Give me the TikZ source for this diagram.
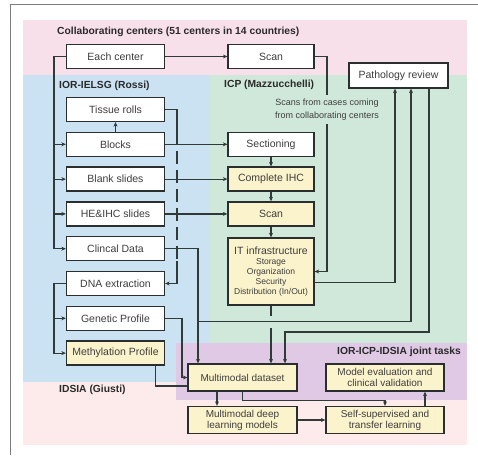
\documentclass[tikz,border=0pt]{standalone}
\usepackage{fontspec}
\setmainfont{Liberation Sans}
\usetikzlibrary{arrows.meta,calc}
\definecolor{cpink}{HTML}{F8E0EB}
\definecolor{cblue}{HTML}{CAE2F2}
\definecolor{cgreen}{HTML}{D0E8D9}
\definecolor{cpurple}{HTML}{DFC9E5}
\definecolor{cpeach}{HTML}{FCEBEA}
\definecolor{cyellow}{HTML}{FBF3CB}
\definecolor{cborder}{HTML}{2B2E2E}
\definecolor{cline}{HTML}{2F3A39}
\definecolor{ctext}{HTML}{3E3E3E}
\definecolor{clab}{HTML}{2A2A2A}
\definecolor{cframe}{HTML}{7C7C7C}
\begin{document}
\begin{tikzpicture}[x=1pt,y=-1pt,
  box/.style={draw=cborder, line width=1.3pt, fill=white, text=ctext,
    font=\fontsize{10.5}{12}\selectfont, inner sep=1pt, align=center},
  ybox/.style={box, fill=cyellow},
  lcol/.style={minimum width=98pt, minimum height=24pt},
  ccol/.style={minimum width=86pt, minimum height=24pt},
  wide/.style={minimum width=109pt, minimum height=27pt, font=\fontsize{10}{11}\selectfont},
  wider/.style={minimum width=118pt, minimum height=27pt, font=\fontsize{10}{11}\selectfont},
  cl/.style={draw=cline, line width=1.2pt},
  arr/.style={cl, -{Stealth[length=4.5pt,width=4pt]}},
  lab/.style={font=\fontsize{10.3}{12}\bfseries\selectfont, text=clab, inner sep=0pt},
  note/.style={font=\fontsize{9}{12.5}\selectfont, text=ctext, align=center, inner xsep=1pt, inner ysep=4pt}
]
\useasboundingbox (0,0) rectangle (478,455);
% backgrounds
\fill[cpeach] (23,75) rectangle (467,445);
\fill[cpink] (23,20) rectangle (467,75);
\fill[cblue] (23,75) rectangle (210,382);
\fill[cgreen] (210,75) rectangle (467,343);
\fill[cpurple] (176,343) rectangle (467,400);
% frame
\draw[cframe, line width=1pt] (478,4) -- (10,4) -- (10,455);

% labels
\node[lab, anchor=west] (lcc) at (57,32) {Collaborating centers (51 centers in 14 countries)};
\node[lab, anchor=west] (lior) at (59,86) {IOR-IELSG (Rossi)};
\node[lab, anchor=west] (licp) at (224,85) {ICP (Mazzucchelli)};
\node[lab, anchor=west] (lids) at (59,390) {IDSIA (Giusti)};
\node[lab, anchor=east] (ljoint) at (461,352) {IOR-ICP-IDSIA joint tasks};

% left column
\node[box, lcol] (ec) at (115.5,56.5) {Each center};
\node[box, lcol] (tr) at (115.5,109.5) {Tissue rolls};
\node[box, lcol] (bl) at (115.5,144.3) {Blocks};
\node[box, lcol] (bs) at (115.5,179.1) {Blank slides};
\node[box, lcol] (he) at (115.5,213.9) {HE\&IHC slides};
\node[box, lcol] (cd) at (115.5,248.7) {Clincal Data};
\node[box, lcol] (dna) at (115.5,283.5) {DNA extraction};
\node[box, lcol] (gp) at (115.5,318.3) {Genetic Profile};
\node[ybox, lcol] (mp) at (115.5,353.1) {Methylation Profile};

% center column
\node[box, ccol] (sc1) at (271,56.5) {Scan};
\node[box, ccol] (sec) at (271,144.3) {Sectioning};
\node[ybox, ccol] (cihc) at (271,179.1) {Complete IHC};
\node[ybox, ccol] (sc2) at (271,213.9) {Scan};
\node[ybox, minimum width=86pt, minimum height=67pt, font=\fontsize{8.5}{10}\selectfont] (it) at (271,271.5)
  {{\fontsize{10.5}{12}\selectfont IT infrastructure}\\Storage\\Organization\\Security\\Distribution (In/Out)};

% right
\node[box, minimum width=99pt, minimum height=25pt] (pr) at (398.5,75.5) {Pathology review};
\node[ybox, wide] (md) at (242.5,377.5) {Multimodal dataset};
\node[ybox, wider] (me) at (385,377.5) {Model evaluation and\\clinical validation};
\node[ybox, wide] (mdl) at (242.5,420) {Multimodal deep\\learning models};
\node[ybox, wider] (ss) at (385,420) {Self-supervised and\\transfer learning};

\node[note] (scn) at (327,109.5) {Scans from cases coming\\from collaborating centers};

% helper coordinates
\coordinate (b1) at (54,0);
\coordinate (dx) at (177,0);
\coordinate (cdx) at (198,0);
\coordinate (gx) at (182,0);
\coordinate (p1) at (395,0);
\coordinate (p2) at (411,0);
\coordinate (p3) at (429,0);
\coordinate (j1) at (198,321.5);
\coordinate (j3) at (285,332);
\coordinate (ga) at (271,316);
\coordinate (gb) at (271,328);

% connectors
\draw[arr] (ec.east) -- (sc1.west);
\draw[arr] (ec.west) -- (b1 |- ec.west) |- (cd.west);
\draw[arr] (b1 |- bl.west) -- (bl.west);
\draw[arr] (b1 |- bs.west) -- (bs.west);
\draw[arr] (b1 |- he.west) -- (he.west);
\draw[arr] (bl.north) -- (tr.south);

\draw[cl] (tr.east) -| (dx |- bl.north);
\draw[cl, dash pattern=on 13pt off 6pt] (dx |- bl.north) -- (dx |- cd.south);
\draw[arr] (dx |- cd.south) |- (dna.east);

\draw[arr] (bl.east) -- (sec.west);
\draw[arr] (bs.east) -- (cihc.west);
\draw[arr] (he.east) -- (sc2.west);
\draw[arr] (sec.south) -- (cihc.north);
\draw[arr] (cihc.south) -- (sc2.north);
\draw[arr] (sc2.south) -- (it.north);

\draw[cl] (sc1.east) -| (scn.north);
\draw[arr] (scn.south) |- (it.east);

\draw[arr] ([yshift=-11pt]it.east) -| (p1 |- pr.south);
\draw[arr] (cd.east) -| (cdx |- md.north);
\draw[arr] (j1) -| (p2 |- pr.south);
\draw[arr] (p3 |- pr.south) |- (j3) -- (j3 |- md.north);
\draw[cl] (it.south) -- (ga);
\draw[arr] (gb) -- (gb |- md.north);

\draw[arr] (dna.west) -- (b1 |- dna.west) |- (mp.west);
\draw[arr] (b1 |- gp.west) -- (gp.west);
\draw[arr] (gp.east) -| (gx |- md.west) -- (md.west);
\draw[cl] ([xshift=40pt]mp.south) |- ([yshift=-8.5pt]md.west);

\draw[arr] ([xshift=-25.5pt]md.south) -- ([xshift=-25.5pt]mdl.north);
\draw[arr] (md.south) -- ++(0,8.5) -| (ss.north);
\draw[arr] (mdl.east) -- (ss.west);
\draw[arr] ([xshift=40pt]ss.north) -- ([xshift=40pt]me.south);
\end{tikzpicture}
\end{document}
